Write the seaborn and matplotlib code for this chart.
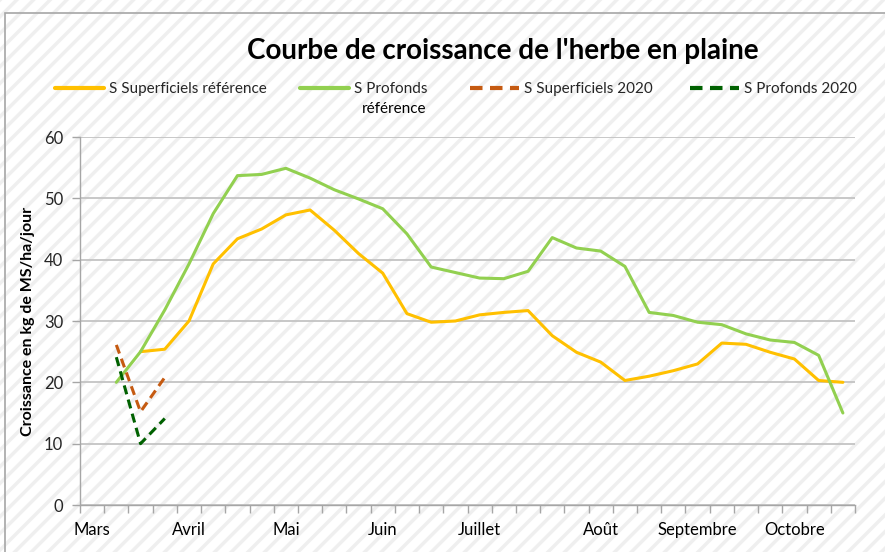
import numpy as np
import matplotlib
matplotlib.use('Agg')
import matplotlib.pyplot as plt
import seaborn as sns
from matplotlib.patches import Rectangle
from matplotlib.lines import Line2D

# ---- data (weekly categories from early March to end of October) ----
weeks = list(range(32))
tick_labels = ['Mars', '', '', '', 'Avril', '', '', '', 'Mai', '', '', '', 'Juin', '', '', '',
               'Juillet', '', '', '', '', 'Août', '', '', '', 'Septembre', '', '', '', 'Octobre', '', '']

superficiels_ref = [None, None, 25, 25.4, 30, 39.3, 43.4, 45, 47.3, 48.1, 44.8, 41.0, 37.8, 31.2,
                    29.8, 30, 31, 31.4, 31.7, 27.6, 24.9, 23.3, 20.3, 21, 21.9, 23, 26.4, 26.2,
                    24.9, 23.8, 20.3, 20]
profonds_ref = [None, 20, 25, 31.8, 39.3, 47.5, 53.7, 53.9, 54.9, 53.3, 51.4, 49.9, 48.3, 44.2,
                38.8, 37.9, 37, 36.9, 38.1, 43.6, 41.9, 41.4, 38.9, 31.4, 30.9, 29.8, 29.4, 27.9,
                26.9, 26.5, 24.4, 15]
superficiels_2020 = [None, 26.1, 15.2, 20.8] + [None] * 28
profonds_2020 = [None, 24.1, 10, 14.1] + [None] * 28

labels = ['S Superficiels référence', 'S Profonds', 'S Superficiels 2020', 'S Profonds 2020']
colors = ['#FFC000', '#92D050', '#C55A11', '#006100']

sns.set_theme(style='white')
plt.rcParams['font.family'] = ['Lato', 'DejaVu Sans']
plt.rcParams['hatch.linewidth'] = 2.5

W, H = 885, 552
fig = plt.figure(figsize=(W / 100, H / 100), dpi=100)
fig.patch.set_facecolor('white')

# striped background
bg = Rectangle((0, 0), 1, 1, transform=fig.transFigure, facecolor='white',
               edgecolor='#efefef', hatch='//', linewidth=0, zorder=-10)
fig.add_artist(bg)
border = Rectangle((5 / W, -0.05), 1.0, 1 - 13 / H + 0.05, transform=fig.transFigure,
                   facecolor='none', edgecolor='#a6a6a6', linewidth=1.2, zorder=-5)
fig.add_artist(border)

ax = fig.add_axes([80 / W, 1 - 505 / H, (855 - 80) / W, (505 - 137) / H])
ax.set_facecolor('none')

def arr(v):
    return np.array([np.nan if x is None else x for x in v], dtype=float)

series = [superficiels_ref, profonds_ref, superficiels_2020, profonds_2020]
styles = ['-', '-', (0, (3, 1.8)), (0, (3, 1.8))]
for s, c, ls in zip(series, colors, styles):
    y = arr(s)
    m = ~np.isnan(y)
    sns.lineplot(x=np.array(weeks)[m], y=y[m], ax=ax, color=c, linewidth=2.2,
                 linestyle=ls, legend=False)

ax.set_xlim(-0.5, 31.5)
ax.set_ylim(0, 60)
ax.set_yticks(range(0, 61, 10))
ax.yaxis.grid(True, color='#bfbfbf', linewidth=1.2)
ax.set_axisbelow(True)
ax.set_xticks(weeks)
ax.set_xticklabels(tick_labels)
ax.set_xticks(np.arange(-0.5, 32, 1), minor=True)
ax.tick_params(axis='x', which='major', length=0, pad=12, labelsize=12, colors='black')
ax.tick_params(axis='x', which='minor', length=6, width=1, color='#a6a6a6', direction='out', bottom=True)
ax.tick_params(axis='y', length=6, width=1, color='#a6a6a6', direction='out', pad=6,
               labelsize=12, left=True)
for sp in ['top', 'right']:
    ax.spines[sp].set_visible(False)
for sp in ['left', 'bottom']:
    ax.spines[sp].set_color('#a6a6a6')
    ax.spines[sp].set_linewidth(1)
ax.set_xlabel('')
ax.set_ylabel('')

fig.text(28 / W, 1 - 321 / H, 'Croissance en kg de MS/ha/jour', rotation=90, ha='center',
         va='center', fontsize=11.5, fontweight='bold', color='black')
fig.text(503 / W, 1 - 51 / H, "Courbe de croissance de l'herbe en plaine", ha='center',
         va='center', fontsize=20, fontweight='bold', color='black')

# legend entries
leg_x = [55, 300, 470, 690]
for i in range(4):
    h = Line2D([], [], color=colors[i], linewidth=3, linestyle=styles[i])
    lg = fig.legend([h], [labels[i]], loc='center left', bbox_to_anchor=(leg_x[i] / W, 1 - 89 / H),
                    frameon=False, fontsize=11, handlelength=3.2, handletextpad=0.35,
                    borderpad=0, borderaxespad=0)
fig.text(362 / W, 1 - 109 / H, 'référence', ha='left', va='center', fontsize=11, color='black')

fig.savefig('out.png', dpi=100)
